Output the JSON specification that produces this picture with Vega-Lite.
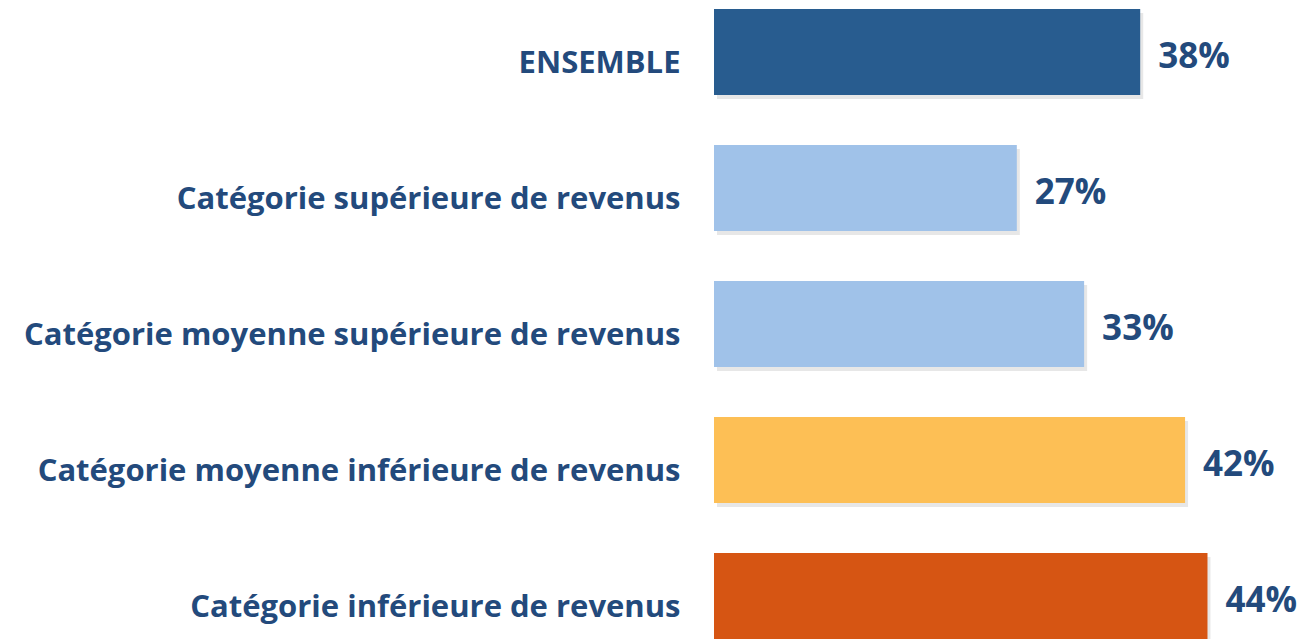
{
  "$schema": "https://vega.github.io/schema/vega-lite/v6.json",
  "width": 572,
  "height": 630,
  "autosize": {"type": "none"},
  "padding": {"left": 714, "top": 9, "right": 18, "bottom": 0},
  "background": "white",
  "config": {"view": {"stroke": null}},
  "data": {
    "values": [
      {"cat": "ENSEMBLE", "pct": 0.38},
      {"cat": "Catégorie supérieure de revenus", "pct": 0.27},
      {"cat": "Catégorie moyenne supérieure  de revenus", "pct": 0.33},
      {"cat": "Catégorie moyenne inférieure  de revenus", "pct": 0.42},
      {"cat": "Catégorie inférieure de revenus", "pct": 0.44}
    ]
  },
  "encoding": {
    "y": {
      "field": "cat",
      "type": "nominal",
      "sort": null,
      "scale": {"paddingInner": 0.3676, "paddingOuter": 0},
      "axis": {
        "title": null,
        "domain": false,
        "ticks": false,
        "labelPadding": 34,
        "labelFont": "Open Sans",
        "labelFontWeight": "bold",
        "labelFontSize": 31,
        "labelColor": "#234a7c",
        "labelLimit": 800,
        "labelOffset": 12
      }
    },
    "x": {
      "field": "pct",
      "type": "quantitative",
      "scale": {"domain": [0, 0.51]},
      "axis": null
    }
  },
  "layer": [
    {
      "mark": {"type": "bar", "color": "#b0b0b0", "opacity": 0.3, "xOffset": 3, "yOffset": 4},
      "encoding": {}
    },
    {
      "mark": {"type": "bar"},
      "encoding": {
        "color": {
          "field": "cat",
          "type": "nominal",
          "legend": null,
          "scale": {
            "domain": [
              "ENSEMBLE",
              "Catégorie supérieure de revenus",
              "Catégorie moyenne supérieure  de revenus",
              "Catégorie moyenne inférieure  de revenus",
              "Catégorie inférieure de revenus"
            ],
            "range": ["#285c8f", "#a0c2e9", "#a0c2e9", "#fdbf55", "#d65513"]
          }
        }
      }
    },
    {
      "mark": {
        "type": "text",
        "align": "left",
        "baseline": "middle",
        "dx": 18,
        "dy": 5,
        "font": "Open Sans",
        "fontWeight": "bold",
        "fontSize": 35,
        "color": "#234a7c"
      },
      "encoding": {
        "text": {"field": "pct", "type": "quantitative", "format": ".0%"}
      }
    }
  ]
}
